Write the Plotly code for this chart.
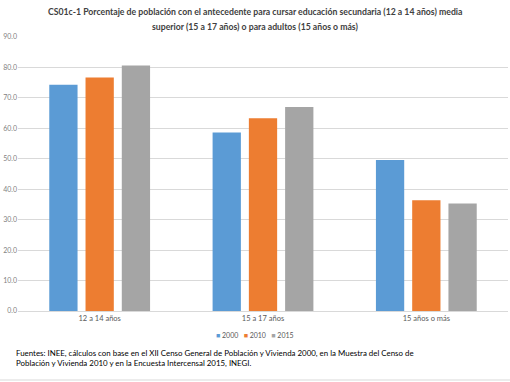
import plotly.graph_objects as go

categories = ["12 a 14 años", "15 a 17 años", "15 años o más"]
series_names = ["2000", "2010", "2015"]
values_2000 = [74.3, 58.6, 49.6]
values_2010 = [76.7, 63.3, 36.4]
values_2015 = [80.6, 67.0, 35.3]
colors = ["#5B9BD5", "#ED7D31", "#A5A5A5"]
tick_vals = [0, 10, 20, 30, 40, 50, 60, 70, 80, 90]
tick_text = ["0.0", "10.0", "20.0", "30.0", "40.0", "50.0", "60.0", "70.0", "80.0", "90.0"]

title_line1 = "<b>CS01c-1 Porcentaje de población con el antecedente para cursar educación secundaria (12 a 14 años) media</b>"
title_line2 = "<b>superior (15 a 17 años) o para adultos (15 años o más)</b>"
source_text = ("Fuentes: INEE, cálculos con base en el XII Censo General de Población y Vivienda 2000, en la Muestra del Censo de"
               "<br>Población y Vivienda 2010 y en la Encuesta Intercensal 2015, INEGI.")

FONT = "Lato, 'Open Sans', sans-serif"
PW, PH = 490.0, 274.0

fig = go.Figure()
for name, vals, col in zip(series_names, [values_2000, values_2010, values_2015], colors):
    fig.add_trace(go.Bar(name=name, x=categories, y=vals, marker_color=col, marker_line_width=0,
                         showlegend=False))

legend_text = "&nbsp;&nbsp;&nbsp;".join(
    f"<span style='color:{c}'>■</span> {n}" for n, c in zip(series_names, colors))

fig.update_layout(
    width=510, height=382,
    margin=dict(l=18, r=2, t=37, b=71),
    paper_bgcolor="white", plot_bgcolor="white",
    barmode="group", bargap=0.334, bargroupgap=0.22,
    font=dict(family=FONT, color="#595959"),
    showlegend=False,
    annotations=[
        dict(text=title_line1, x=0.5 - 8/PW, xref="paper", y=1 + 25/PH, yref="paper", yanchor="middle",
             showarrow=False, font=dict(size=8.7, color="#404040", family=FONT), align="center"),
        dict(text=title_line2, x=0.5 - 8/PW, xref="paper", y=1 + 11/PH, yref="paper", yanchor="middle",
             showarrow=False, font=dict(size=8.7, color="#404040", family=FONT), align="center"),
        dict(text=legend_text, x=0.5 - 8/PW, xref="paper", y=-24/PH, yref="paper", yanchor="middle",
             showarrow=False, font=dict(size=7, color="#595959", family=FONT), align="center"),
        dict(text=source_text, x=-4/PW, xref="paper", xanchor="left", y=-59/PH, yref="paper",
             yanchor="bottom", showarrow=False, align="left",
             font=dict(size=7.9, color="#000000", family=FONT)),
    ],
)

fig.update_yaxes(range=[0, 90], tickvals=tick_vals, ticktext=tick_text, showgrid=True,
                 gridcolor="#D9D9D9", gridwidth=1, zeroline=False, showline=False,
                 tickfont=dict(size=7, color="#7F7F7F"), ticks="", automargin=False)
fig.update_xaxes(showline=True, linecolor="#D9D9D9", linewidth=1, ticks="",
                 tickfont=dict(size=7.5, color="#595959"), automargin=False)

fig.add_shape(type="line", xref="paper", yref="paper", x0=-18/PW, x1=1 + 2/PW, y0=-69/PH, y1=-69/PH,
              line=dict(color="#D9D9D9", width=1))

fig.write_html("out.html", config={"displayModeBar": False},
               post_script="document.body.style.margin='0';")
